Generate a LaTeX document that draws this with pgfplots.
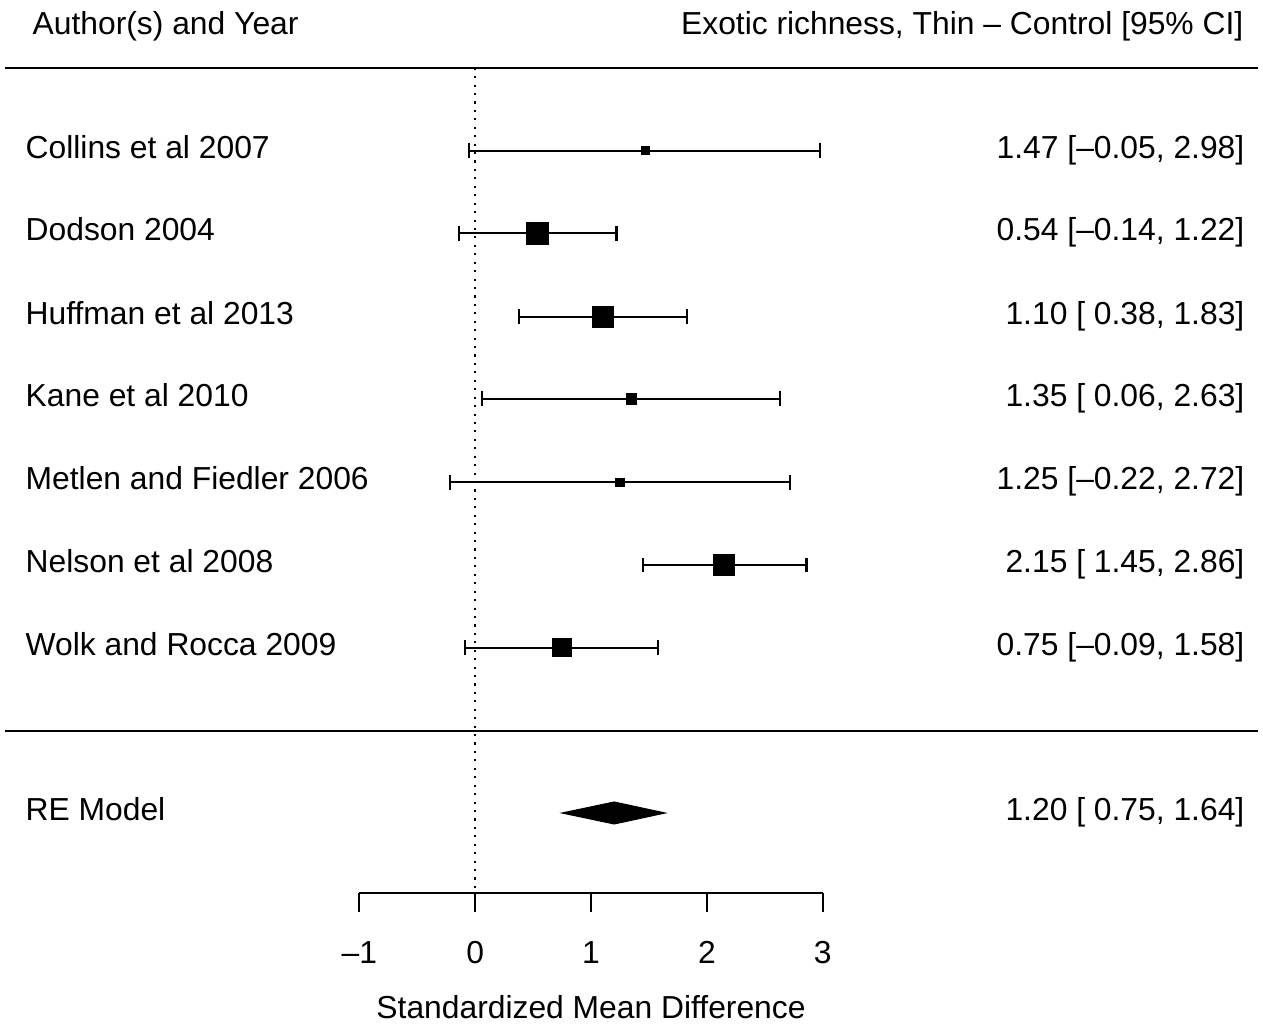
\documentclass[border=0pt]{standalone}
\usepackage{pgfplots}
\pgfplotsset{compat=1.18}
\usepackage{fontspec}
\setmainfont{Liberation Sans}
\protected\def\mn{\char"2013\relax}
\protected\def\sp{\char"0020\relax}
\begin{document}
\begin{tikzpicture}[
  lbl/.style={font=\fontsize{9.05}{10.9}\selectfont, inner sep=0pt, text=black},
  lw/.style={line width=0.6pt}]
\begin{axis}[
  scale only axis, width=12.63cm, height=10.23cm,
  xmin=-4.1014, xmax=6.8006, ymin=-1023, ymax=0,
  axis lines=none, clip=false,
  error bars/error bar style={line width=0.6pt, black},
  error bars/error mark options={line width=0.6pt, black, mark size=2.13pt, rotate=90},
]
\path (rel axis cs:0,0) rectangle (rel axis cs:1,1);
% horizontal rules and reference line
\draw[lw] (axis cs:-4.0582,-67.7) -- (axis cs:6.7574,-67.7);
\draw[lw] (axis cs:-4.0582,-731) -- (axis cs:6.7574,-731);
\draw[lw, dash pattern=on 0.6pt off 1.8pt] (axis cs:0,-67.7) -- (axis cs:0,-893.3);
% x axis
\draw[lw] (axis cs:-1,-893.3) -- (axis cs:3,-893.3);
\draw[lw] (axis cs:-1,-893.3) -- (axis cs:-1,-912);
\draw[lw] (axis cs:0,-893.3) -- (axis cs:0,-912);
\draw[lw] (axis cs:1,-893.3) -- (axis cs:1,-912);
\draw[lw] (axis cs:2,-893.3) -- (axis cs:2,-912);
\draw[lw] (axis cs:3,-893.3) -- (axis cs:3,-912);
\node[lbl, anchor=base] at (axis cs:-1,-963) {\mn1};
\node[lbl, anchor=base] at (axis cs:0,-963) {0};
\node[lbl, anchor=base] at (axis cs:1,-963) {1};
\node[lbl, anchor=base] at (axis cs:2,-963) {2};
\node[lbl, anchor=base] at (axis cs:3,-963) {3};
\node[lbl, anchor=base] at (axis cs:1,-1018) {Standardized Mean Difference};
% headers
\node[lbl, anchor=base west] at (axis cs:-3.8252,-34.3) {Author(s) and Year};
\node[lbl, anchor=base east] at (axis cs:6.6366,-34.3) {Exotic richness, Thin \mn{} Control [95\% CI]};
% study labels
\node[lbl, anchor=base west] at (axis cs:-3.8856,-158.3) {Collins et al 2007};
\node[lbl, anchor=base west] at (axis cs:-3.8856,-240.9) {Dodson 2004};
\node[lbl, anchor=base west] at (axis cs:-3.8856,-324.3) {Huffman et al 2013};
\node[lbl, anchor=base west] at (axis cs:-3.8856,-406.6) {Kane et al 2010};
\node[lbl, anchor=base west] at (axis cs:-3.8856,-489.9) {Metlen and Fiedler 2006};
\node[lbl, anchor=base west] at (axis cs:-3.8856,-572.6) {Nelson et al 2008};
\node[lbl, anchor=base west] at (axis cs:-3.8856,-655.3) {Wolk and Rocca 2009};
\node[lbl, anchor=base west] at (axis cs:-3.8856,-820.6) {RE Model};
\node[lbl, anchor=base east] at (axis cs:6.6452,-158.3) {1.47 [\mn0.05, 2.98]};
\node[lbl, anchor=base east] at (axis cs:6.6452,-240.9) {0.54 [\mn0.14, 1.22]};
\node[lbl, anchor=base east] at (axis cs:6.6452,-324.3) {1.10 [\sp0.38, 1.83]};
\node[lbl, anchor=base east] at (axis cs:6.6452,-406.6) {1.35 [\sp0.06, 2.63]};
\node[lbl, anchor=base east] at (axis cs:6.6452,-489.9) {1.25 [\mn0.22, 2.72]};
\node[lbl, anchor=base east] at (axis cs:6.6452,-572.6) {2.15 [\sp1.45, 2.86]};
\node[lbl, anchor=base east] at (axis cs:6.6452,-655.3) {0.75 [\mn0.09, 1.58]};
\node[lbl, anchor=base east] at (axis cs:6.6452,-820.6) {1.20 [\sp0.75, 1.64]};
% studies
\addplot[black, mark=square*, mark size=1.14pt, mark options={draw=none, fill=black},
  error bars/.cd, x dir=both, x explicit]
  coordinates {(1.47,-150.7) -= (1.52,0) += (1.51,0)};
\addplot[black, mark=square*, mark size=3.06pt, mark options={draw=none, fill=black},
  error bars/.cd, x dir=both, x explicit]
  coordinates {(0.54,-233.3) -= (0.68,0) += (0.68,0)};
\addplot[black, mark=square*, mark size=2.94pt, mark options={draw=none, fill=black},
  error bars/.cd, x dir=both, x explicit]
  coordinates {(1.10,-316.7) -= (0.72,0) += (0.73,0)};
\addplot[black, mark=square*, mark size=1.42pt, mark options={draw=none, fill=black},
  error bars/.cd, x dir=both, x explicit]
  coordinates {(1.35,-399.0) -= (1.29,0) += (1.28,0)};
\addplot[black, mark=square*, mark size=1.14pt, mark options={draw=none, fill=black},
  error bars/.cd, x dir=both, x explicit]
  coordinates {(1.25,-482.3) -= (1.47,0) += (1.47,0)};
\addplot[black, mark=square*, mark size=2.94pt, mark options={draw=none, fill=black},
  error bars/.cd, x dir=both, x explicit]
  coordinates {(2.15,-565.0) -= (0.70,0) += (0.71,0)};
\addplot[black, mark=square*, mark size=2.52pt, mark options={draw=none, fill=black},
  error bars/.cd, x dir=both, x explicit]
  coordinates {(0.75,-647.7) -= (0.84,0) += (0.83,0)};
% summary diamond
\addplot[fill=black, draw=black, line width=0.3pt] coordinates {(0.75,-813) (1.20,-802) (1.64,-813) (1.20,-824)} -- cycle;
\end{axis}
\end{tikzpicture}
\end{document}
